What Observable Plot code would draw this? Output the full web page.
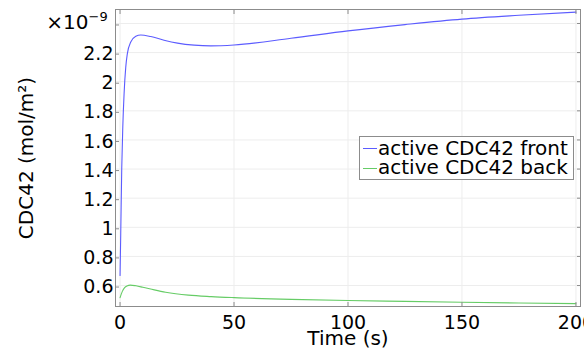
<!DOCTYPE html>
<html>
<head>
<meta charset="utf-8">
<script src="https://cdn.jsdelivr.net/npm/d3@7"></script>
<script src="https://cdn.jsdelivr.net/npm/@observablehq/plot@0.6"></script>
<style>
  html, body { margin: 0; padding: 0; background: #fff; }
  #wrap { position: relative; width: 584px; height: 354px; overflow: hidden; font-family: "DejaVu Sans", sans-serif; }
  #legend { position: absolute; left: 359px; top: 136px; width: 213px; height: 42px; border: 1px solid #8c8c8c; background: #fff; }
  .row { position: absolute; left: 0; height: 19.5px; line-height: 19.5px; font-size: 20px; white-space: nowrap; color: #000; }
  .row span.sw { position: absolute; left: 3px; top: 9.5px; width: 14px; height: 0; border-top: 1.2px solid; }
  .row span.tx { position: absolute; left: 18px; top: 0; }
</style>
</head>
<body>
<div id="wrap"></div>
<script>
// Values are in units of 1e-9 mol/m^2 (axis shows ×10^-9)
const timeFront = [0, 0.3, 0.75, 1.2, 1.77, 2.5, 3.2, 4.7, 6.9, 9.1, 13.5, 19.3, 25.2, 32.5, 39.8, 50, 75, 100, 125, 150, 175, 200];
const valFront  = [0.669, 0.956, 1.414, 1.689, 1.918, 2.10, 2.193, 2.273, 2.312, 2.321, 2.31, 2.285, 2.265, 2.251, 2.246, 2.252, 2.298, 2.349, 2.392, 2.43, 2.456, 2.478];
const timeBack  = [0, 1, 2, 3, 4.5, 7, 10, 15, 20, 30, 40, 50, 75, 100, 125, 150, 175, 200];
const valBack   = [0.517, 0.56, 0.585, 0.597, 0.603, 0.598, 0.588, 0.57, 0.554, 0.534, 0.524, 0.517, 0.505, 0.497, 0.491, 0.485, 0.48, 0.476];
const seriesNames = ["active CDC42 front", "active CDC42 back"];
const seriesColors = ["#5c5cff", "#66cc66"];
const xTicks = [0, 50, 100, 150, 200];
const xTickLabels = ["0", "50", "100", "150", "200"];
const yTicks = [0.6, 0.8, 1.0, 1.2, 1.4, 1.6, 1.8, 2.0, 2.2, 2.4];
const yTickLabels = ["0.6", "0.8", "1", "1.2", "1.4", "1.6", "1.8", "2", "2.2", ""];
const xTitle = "Time (s)";
const yTitle = "CDC42 (mol/m²)";
const multBase = "×10";
const multExp = "−9";

const front = timeFront.map((t, i) => ({t, v: valFront[i]}));
const back = timeBack.map((t, i) => ({t, v: valBack[i]}));
const gray = "#8c8c8c";

const chart = Plot.plot({
  width: 584,
  height: 354,
  marginLeft: 115,
  marginRight: 4,
  marginTop: 9,
  marginBottom: 48,
  style: {fontFamily: "DejaVu Sans, sans-serif", fontSize: "19px", color: "#000", background: "#fff"},
  x: {domain: [-2, 202]},
  y: {domain: [0.456, 2.496]},
  marks: [
    Plot.gridX(xTicks, {stroke: "#ededed", strokeOpacity: 1}),
    Plot.gridY(yTicks, {stroke: "#ededed", strokeOpacity: 1}),
    Plot.line(front, {x: "t", y: "v", stroke: seriesColors[0], strokeWidth: 1.1, curve: "monotone-x"}),
    Plot.line(back, {x: "t", y: "v", stroke: seriesColors[1], strokeWidth: 1.1, curve: "monotone-x"}),
    Plot.frame({stroke: gray}),
    Plot.axisX(xTicks, {anchor: "bottom", tickSize: -4, tickPadding: 12.5, stroke: gray, label: null,
      tickFormat: d => xTickLabels[xTicks.indexOf(d)]}),
    Plot.axisX(xTicks, {anchor: "top", tickSize: -4, stroke: gray, label: null, tickFormat: () => ""}),
    Plot.axisY(yTicks, {anchor: "left", tickSize: -4, tickPadding: 6, dy: 1.5, stroke: gray, label: null,
      tickFormat: d => yTickLabels[yTicks.indexOf(d)]}),
    Plot.axisY(yTicks, {anchor: "right", tickSize: -4, stroke: gray, label: null, tickFormat: () => ""}),
    Plot.text([xTitle], {frameAnchor: "bottom", dy: 32.2, fontSize: 20, textAnchor: "middle", lineAnchor: "middle"}),
    Plot.text([yTitle], {frameAnchor: "left", dx: -89, rotate: -90, fontSize: 20, textAnchor: "middle", lineAnchor: "middle"}),
    Plot.text([multBase], {frameAnchor: "top-left", dx: -27, dy: 12.6, fontSize: 20, textAnchor: "end", lineAnchor: "middle"}),
    Plot.text([multExp], {frameAnchor: "top-left", dx: -27, dy: 7.5, fontSize: 13, textAnchor: "start", lineAnchor: "middle"})
  ]
});

const wrap = document.getElementById("wrap");
wrap.appendChild(chart);

const legend = document.createElement("div");
legend.id = "legend";
const rowTops = [1.5, 21];
seriesNames.forEach((name, i) => {
  const row = document.createElement("div");
  row.className = "row";
  row.style.top = rowTops[i] + "px";
  const sw = document.createElement("span");
  sw.className = "sw";
  sw.style.borderTopColor = seriesColors[i];
  const tx = document.createElement("span");
  tx.className = "tx";
  tx.textContent = name;
  row.appendChild(sw);
  row.appendChild(tx);
  legend.appendChild(row);
});
wrap.appendChild(legend);
</script>
</body>
</html>
